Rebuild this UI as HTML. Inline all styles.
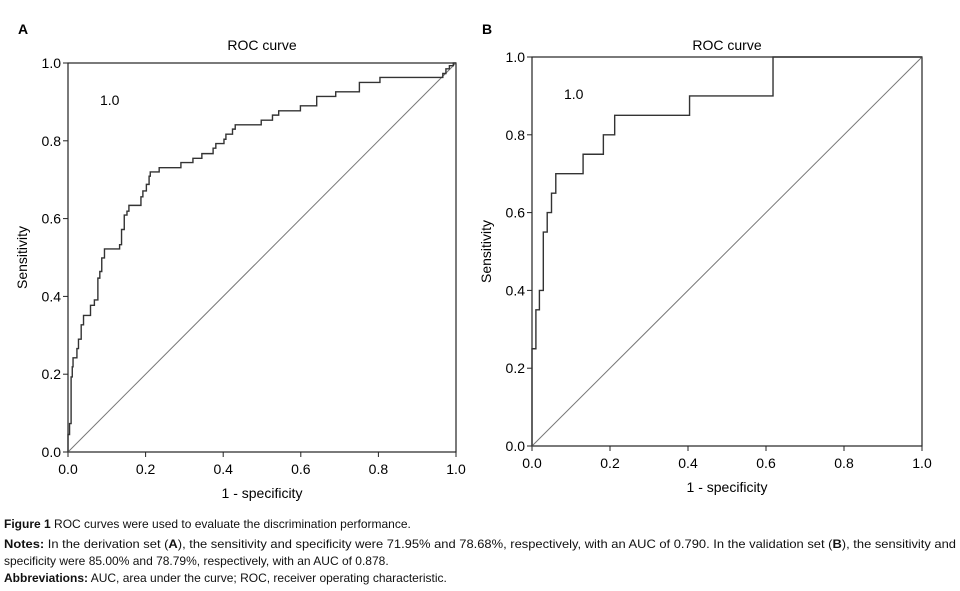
<!DOCTYPE html>
<html><head><meta charset="utf-8"><style>
body{margin:0;background:#fff}
svg{display:block;font-family:"Liberation Sans",sans-serif}
</style></head><body>
<svg width="960" height="591" viewBox="0 0 960 591">
<g id="A"></g>
<g id="B"></g>
<g font-size="12" fill="#111" font-family="Liberation Sans,sans-serif">
<text x="4" y="528"><tspan font-weight="bold">Figure 1</tspan> ROC curves were used to evaluate the discrimination performance.</text>
<text x="4" y="548" textLength="952" lengthAdjust="spacingAndGlyphs"><tspan font-weight="bold">Notes:</tspan> In the derivation set (<tspan font-weight="bold">A</tspan>), the sensitivity and specificity were 71.95% and 78.68%, respectively, with an AUC of 0.790. In the validation set (<tspan font-weight="bold">B</tspan>), the sensitivity and</text>
<text x="4" y="565">specificity were 85.00% and 78.79%, respectively, with an AUC of 0.878.</text>
<text x="4" y="582"><tspan font-weight="bold">Abbreviations:</tspan> AUC, area under the curve; ROC, receiver operating characteristic.</text>
</g>
</svg>
<script>
const fprA=[0,.004,.008,.011,.013,.023,.027,.034,.040,.058,.068,.077,.082,.087,.094,.133,.138,.145,.152,.157,.188,.193,.202,.209,.212,.235,.291,.322,.345,.374,.381,.402,.407,.424,.431,.498,.527,.543,.599,.641,.690,.751,.804,.966,.974,.983,.993];
const tprA=[.045,.073,.193,.219,.242,.266,.29,.327,.351,.377,.391,.447,.464,.499,.522,.533,.572,.609,.619,.634,.656,.671,.688,.709,.72,.731,.744,.755,.767,.781,.793,.804,.817,.83,.841,.853,.866,.877,.89,.914,.926,.95,.963,.973,.985,.993,1];
const fprB=[0,.01,.019,.029,.039,.05,.061,.131,.183,.212,.404,.618];
const tprB=[.25,.35,.40,.55,.60,.65,.70,.75,.80,.85,.90,1];
const ticks=[0,.2,.4,.6,.8,1];
const tickLabels=["0.0","0.2","0.4","0.6","0.8","1.0"];
const NS="http://www.w3.org/2000/svg";
function mk(p,tag,at,txt){const e=document.createElementNS(NS,tag);for(const k in at)e.setAttribute(k,at[k]);if(txt!=null)e.textContent=txt;p.appendChild(e);return e;}
function panel(id,letter,L,T,W,H,fpr,tpr,ytickDash){
  const g=document.getElementById(id);
  const sx=v=>L+v*W, sy=v=>T+H-v*H;
  let t=mk(g,'text',{x:L-50,y:34,'font-size':14,'font-weight':'bold'},letter);
  
  
  t=mk(g,'text',{x:L+W/2,y:50,'font-size':14,'text-anchor':'middle'},'ROC curve');
  
  
  t=mk(g,'text',{x:L+W/2,y:T+H+46,'font-size':14,'text-anchor':'middle'},'1 - specificity');
  
  
  t=mk(g,'text',{x:0,y:0,'font-size':14,'text-anchor':'middle',transform:`translate(${L-41},${T+H/2}) rotate(-90)`},'Sensitivity');
  
  
  t=mk(g,'text',{x:L+32,y:T+42,'font-size':14},'1.0');
  
  
  const r=mk(g,'rect',{x:L,y:T,width:W,height:H,fill:'none',stroke:'#222','stroke-width':1.2});
  
  
  ticks.forEach((v,i)=>{
    let l=mk(g,'line',{x1:sx(v),x2:sx(v),y1:T+H,y2:T+H+5,stroke:'#222'});
    
    
    let tx=mk(g,'text',{x:sx(v),y:T+H+22,'font-size':14,'text-anchor':'middle'},tickLabels[i]);
    
    
    l=mk(g,'line',{x1:L-5,x2:L,y1:sy(v),y2:sy(v),stroke:'#222'});
    
    
    tx=mk(g,'text',{x:L-7,y:sy(v)+5,'font-size':14,'text-anchor':'end'},tickLabels[i]);
    
    
  });
  const d=mk(g,'line',{x1:sx(0),y1:sy(0),x2:sx(1),y2:sy(1),stroke:'#777','stroke-width':1});
  
  
  let p=`M${sx(0)},${sy(0)}`;
  fpr.forEach((x,i)=>{p+=` H${sx(x)} V${sy(tpr[i])}`;});
  p+=` H${sx(1)}`;
  const c=mk(g,'path',{d:p,fill:'none',stroke:'#333','stroke-width':1.4});
  
  
}
panel('A','A',68,63,388,389,fprA,tprA);
panel('B','B',532,57,390,389,fprB,tprB);
</script>
</body></html>
